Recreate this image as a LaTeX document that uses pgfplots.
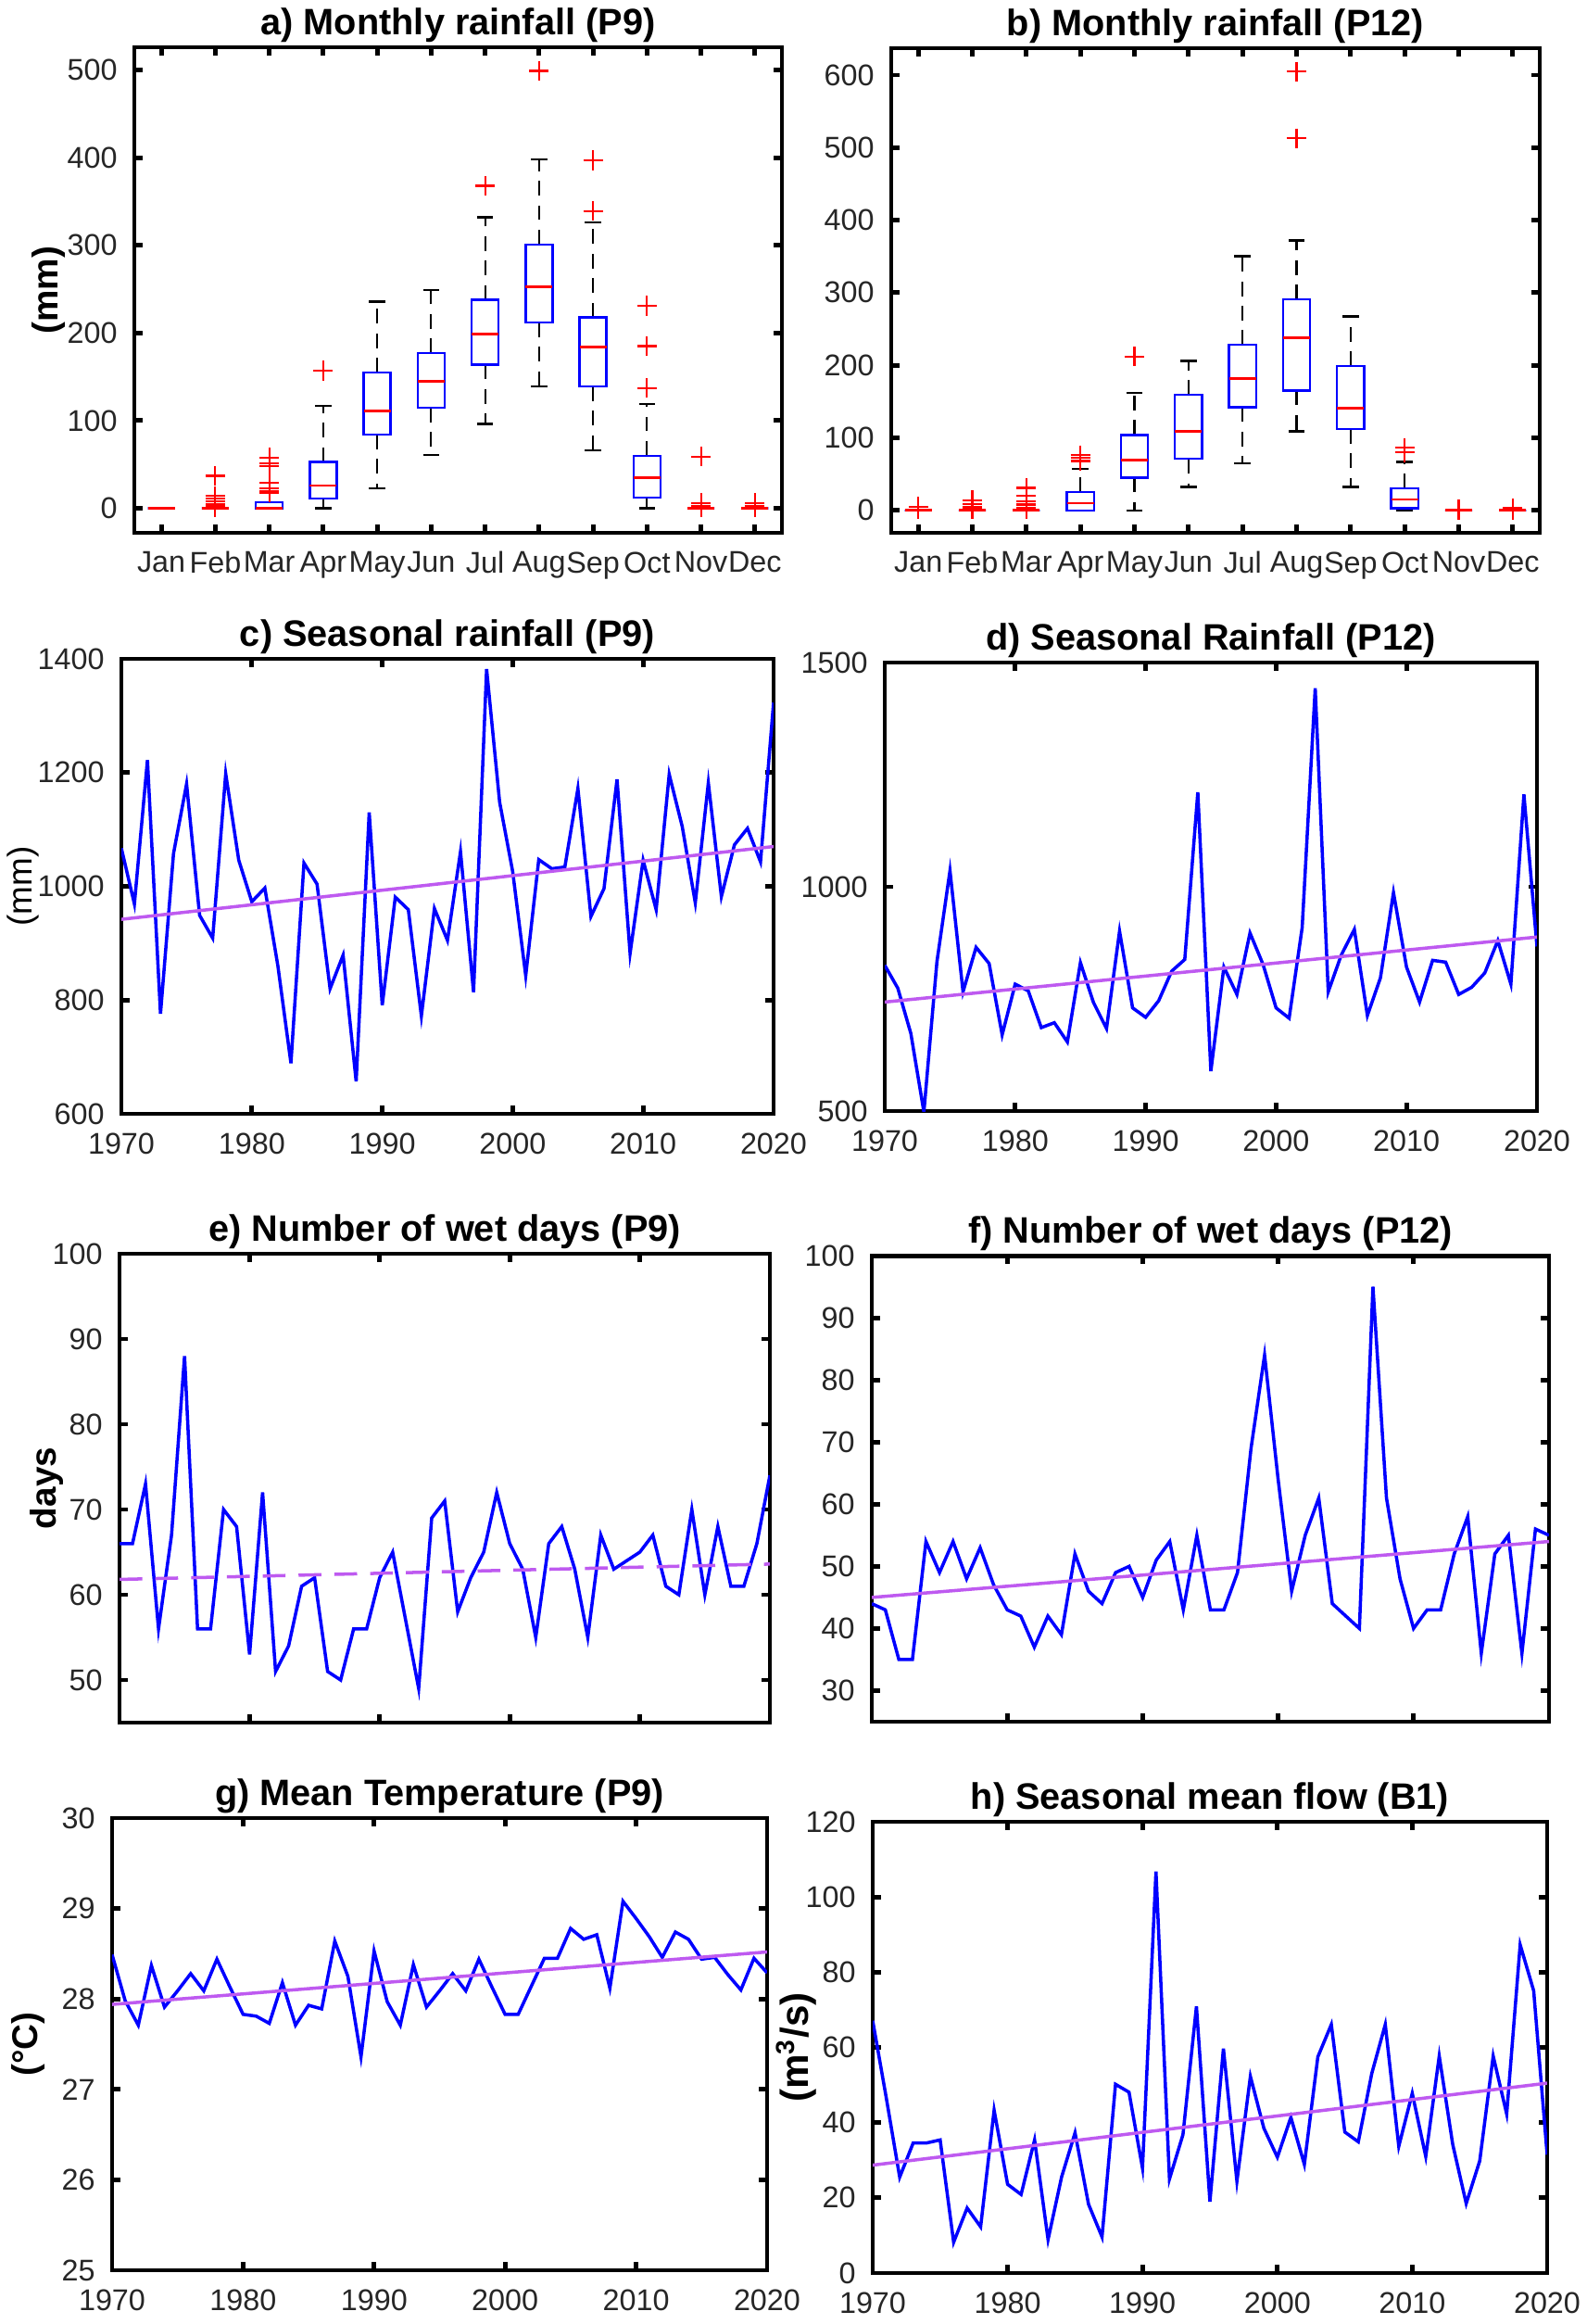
\documentclass[border=0pt]{standalone}
\usepackage{fontspec}
\setmainfont{Liberation Sans}
\setsansfont{Liberation Sans}
\usepackage{pgfplots}
\pgfplotsset{compat=1.18}
\usepackage{pgfplotstable}
\usepgfplotslibrary{statistics}

\definecolor{trend}{RGB}{190,90,240}
\definecolor{lbl}{RGB}{38,38,38}

% seasonal series read off the panels c)--h)
\pgfplotstableread{
year c d e f g h
1970 1067 825 66 44 28.49 67.1
1971 969 774 66 43 27.98 46.7
1972 1222 673 73 35 27.71 25.5
1973 776 498 56 35 28.37 34.6
1974 1058 833 67 54 27.91 34.6
1975 1180 1036 88 49 28.09 35.4
1976 949 766 56 54 28.28 8.2
1977 909 865 56 48 28.09 17.3
1978 1198 829 70 53 28.44 12.3
1979 1046 670 68 47 28.13 43.3
1980 973 783 53 43 27.83 23.6
1981 997 768 72 42 27.81 20.9
1982 860 686 51 37 27.73 35.4
1983 689 697 54 42 28.18 8.9
1984 1041 654 61 39 27.71 25.5
1985 1004 831 62 52 27.93 37.3
1986 820 742 51 46 27.89 18.3
1987 879 684 50 44 28.64 9.6
1988 657 901 56 49 28.25 50.2
1989 1130 730 56 50 27.36 48.1
1990 791 709 62 45 28.53 27.9
1991 981 746 65 51 27.97 106.8
1992 959 812 57 54 27.71 25.0
1993 772 838 49 43 28.38 36.8
1994 961 1211 69 55 27.91 70.9
1995 905 589 71 43 28.09 19.0
1996 1061 821 58 43 28.28 59.7
1997 814 760 62 49 28.09 24.4
1998 1382 897 65 69 28.44 52.3
1999 1148 827 72 84 28.13 38.5
2000 1026 730 66 64 27.83 30.8
2001 843 707 63 46 27.83 41.4
2002 1047 909 55 55 28.14 28.9
2003 1031 1443 66 61 28.45 57.5
2004 1034 766 68 44 28.45 66.1
2005 1172 848 63 42 28.78 37.5
2006 947 905 55 40 28.66 34.9
2007 996 713 67 95 28.71 53.1
2008 1188 797 63 61 28.12 66.1
2009 882 987 64 48 29.08 33.7
2010 1046 821 65 40 28.89 47.8
2011 959 743 67 43 28.69 31.0
2012 1197 836 61 43 28.46 57.7
2013 1105 832 60 52 28.74 34.2
2014 971 760 70 58 28.66 18.5
2015 1182 776 60 36 28.44 29.8
2016 982 808 68 52 28.46 57.7
2017 1073 880 61 55 28.27 42.3
2018 1102 783 61 36 28.10 87.3
2019 1043 1206 66 56 28.45 75.1
2020 1323 867 74 55 28.29 31.5
}\series

\pgfplotsset{
  mat/.style={
    scale only axis, anchor=south west,
    axis line style={line width=1.4pt, black},
    major tick style={line width=1.4pt, black},
    major tick length=0.9mm,
    ticklabel style={font=\fontsize{9.2}{10}\selectfont, text=lbl},
    xticklabel style={yshift=-0.8mm},
    yticklabel style={xshift=-0.6mm},
    /pgf/number format/assume math mode=true,
    /pgf/number format/1000 sep={},
    title style={font=\bfseries\fontsize{11.3}{13}\selectfont, yshift=-8pt},
    ylabel style={font=\bfseries\fontsize{11}{13}\selectfont, anchor=center},
  },
  yrs/.style={mat, xmin=1970, xmax=2020, xtick={1970,1980,...,2020}},
  mon/.style={mat, xmin=0.5, xmax=12.5, xtick={1,...,12},
    xticklabels={Jan,Feb,Mar,Apr,May,Jun,Jul,Aug,Sep,Oct,Nov,Dec},
    boxplot/draw direction=y,
    boxplot/box extend=0.5},
  ser/.style={blue, line width=1.0pt},
  trd/.style={trend, line width=1.0pt},
  bxp/.style={blue, mark=+, mark size=3pt, mark options={red, line width=0.6pt, solid}},
  boxplot/every box/.style={line width=0.7pt},
  boxplot/every median/.style={red, line width=0.8pt},
  % dashed whisker from the quartile (#1) to the whisker end (#2), solid cap there
  boxplot/draw/whisker/.code 2 args={
    \draw[black, line width=0.6pt, dash pattern=on 4.5pt off 3pt] (boxplot cs:#1) -- (boxplot cs:#2);
    \draw[black, line width=0.7pt] (boxplot box cs:#2,0.2) -- (boxplot box cs:#2,0.8);
  },
}
% draw position, lower whisker, lower quartile, median, upper quartile, upper whisker, outliers
\newcommand\bx[7]{\addplot[bxp, boxplot prepared={draw position=#1, lower whisker=#2,
  lower quartile=#3, median=#4, upper quartile=#5, upper whisker=#6}] coordinates {#7};}

\begin{document}
\begin{tikzpicture}
\useasboundingbox (0,0) rectangle (171.3mm,-250.8mm);

% a) monthly rainfall P9
\begin{axis}[mon, at={(14.5mm,-57.5mm)}, width=69.9mm, height=52.4mm,
  ymin=-28, ymax=526, ytick={0,100,...,500},
  title={a) Monthly rainfall (P9)}, ylabel={(mm)},
  ylabel style={at={(axis description cs:-0.133,0.5)}}]
\bx{1}{0}{0}{0}{0}{0}{}
\bx{2}{0}{0}{0}{0}{0}{(0,37) (0,14) (0,11) (0,8) (0,5) (0,3) (0,1)}
\bx{3}{0}{0}{0}{7}{7}{(0,58) (0,51) (0,48) (0,29) (0,23) (0,20) (0,18)}
\bx{4}{0}{11}{26}{53}{117}{(0,157)}
\bx{5}{23}{84}{111}{155}{236}{}
\bx{6}{61}{115}{145}{177}{249}{}
\bx{7}{96}{164}{199}{238}{332}{(0,368)}
\bx{8}{139}{212}{253}{301}{398}{(0,499)}
\bx{9}{66}{139}{184}{218}{326}{(0,339) (0,397)}
\bx{10}{0}{12}{35}{60}{119}{(0,137) (0,185) (0,231)}
\bx{11}{0}{0}{0}{0}{0}{(0,59) (0,6) (0,3) (0,1)}
\bx{12}{0}{0}{0}{0}{0}{(0,6) (0,3) (0,1)}
\end{axis}

% b) monthly rainfall P12
\begin{axis}[mon, at={(96.2mm,-57.5mm)}, width=70.0mm, height=52.3mm,
  ymin=-31, ymax=637, ytick={0,100,...,600},
  title={b) Monthly rainfall (P12)}]
\bx{1}{0}{0}{0}{0}{0}{(0,5) (0,1)}
\bx{2}{0}{0}{0}{0}{0}{(0,14) (0,9) (0,5) (0,2)}
\bx{3}{0}{0}{0}{0}{0}{(0,31) (0,20) (0,13) (0,8) (0,4) (0,1)}
\bx{4}{0}{0}{10}{25}{57}{(0,68) (0,72) (0,76)}
\bx{5}{0}{45}{69}{104}{162}{(0,212)}
\bx{6}{32}{71}{109}{159}{206}{}
\bx{7}{65}{142}{182}{228}{350}{}
\bx{8}{109}{165}{238}{291}{372}{(0,513) (0,605)}
\bx{9}{32}{112}{141}{199}{267}{}
\bx{10}{0}{3}{15}{30}{67}{(0,80) (0,86)}
\bx{11}{0}{0}{0}{0}{0}{(0,1) (0,0)}
\bx{12}{0}{0}{0}{0}{0}{(0,3) (0,0)}
\end{axis}

% c) seasonal rainfall P9
\begin{axis}[yrs, at={(13.1mm,-120.2mm)}, width=70.4mm, height=49.1mm,
  ymin=600, ymax=1400, ytick={600,800,...,1400},
  title={c) Seasonal rainfall (P9)}, ylabel={(mm)},
  ylabel style={font=\fontsize{10.5}{12}\selectfont, at={(axis description cs:-0.151,0.5)}}]
\addplot[ser] table[x=year, y=c] {\series};
\addplot[trd] coordinates {(1970,942) (2020,1070)};
\end{axis}

% d) seasonal rainfall P12
\begin{axis}[yrs, at={(95.5mm,-119.9mm)}, width=70.4mm, height=48.4mm,
  ymin=500, ymax=1500, ytick={500,1000,1500},
  title={d) Seasonal Rainfall (P12)}]
\addplot[ser] table[x=year, y=d] {\series};
\addplot[trd] coordinates {(1970,743) (2020,888)};
\end{axis}

% e) wet days P9
\begin{axis}[yrs, at={(12.9mm,-185.9mm)}, width=70.2mm, height=50.6mm,
  ymin=45, ymax=100, ytick={50,60,...,100}, xticklabels={},
  title={e) Number of wet days (P9)}, ylabel={days},
  ylabel style={at={(axis description cs:-0.1125,0.5)}}]
\addplot[ser] table[x=year, y=e] {\series};
\addplot[trd, dash pattern=on 7pt off 4pt] coordinates {(1970,61.8) (2020,63.6)};
\end{axis}

% f) wet days P12
\begin{axis}[yrs, at={(94.1mm,-185.8mm)}, width=73.1mm, height=50.3mm,
  ymin=25, ymax=100, ytick={30,40,...,100}, xticklabels={},
  title={f) Number of wet days (P12)}]
\addplot[ser] table[x=year, y=f] {\series};
\addplot[trd] coordinates {(1970,45) (2020,54)};
\end{axis}

% g) mean temperature P9
\begin{axis}[yrs, at={(12.1mm,-245.0mm)}, width=70.7mm, height=48.8mm,
  ymin=25, ymax=30, ytick={25,...,30},
  title={g) Mean Temperature (P9)}, ylabel={(°C)},
  ylabel style={at={(axis description cs:-0.128,0.5)}}]
\addplot[ser] table[x=year, y=g] {\series};
\addplot[trd] coordinates {(1970,27.94) (2020,28.52)};
\end{axis}

% h) seasonal mean flow B1
\begin{axis}[yrs, at={(94.2mm,-245.3mm)}, width=72.8mm, height=48.7mm,
  ymin=0, ymax=120, ytick={0,20,...,120},
  title={h) Seasonal mean flow (B1)}, ylabel={(m\textsuperscript{3}/s)},
  ylabel style={font=\bfseries\fontsize{12}{14}\selectfont, at={(axis description cs:-0.113,0.5)}}]
\addplot[ser] table[x=year, y=h] {\series};
\addplot[trd] coordinates {(1970,28.7) (2020,50.5)};
\end{axis}
\end{tikzpicture}
\end{document}
